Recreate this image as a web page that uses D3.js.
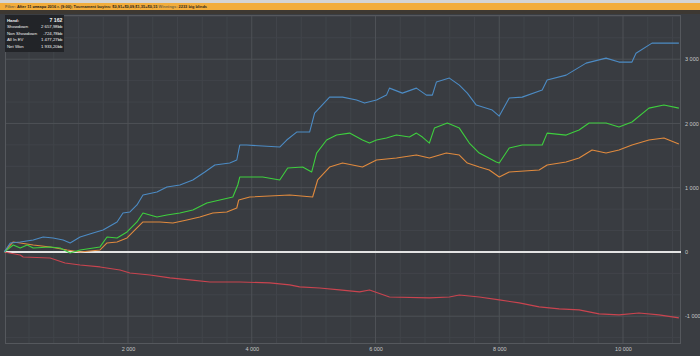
<!DOCTYPE html>
<html><head><meta charset="utf-8">
<script src="https://cdn.jsdelivr.net/npm/d3@7"></script>
<style>
html,body{margin:0;padding:0;background:#3a3d42;overflow:hidden}
svg{display:block}
text{font-family:"Liberation Sans","DejaVu Sans",sans-serif}
</style></head>
<body>
<svg id="c" width="700" height="356"></svg>
<script>
// ---- data (hands, big blinds) ----
const xTicks = [2000, 4000, 6000, 8000, 10000];
const xTickLabels = ["2 000", "4 000", "6 000", "8 000", "10 000"];
const yTicks = [-1000, 0, 1000, 2000, 3000];
const yTickLabels = ["-1 000", "0", "1 000", "2 000", "3 000"];

const blueHands = [0,97,258,468,629,790,952,1065,1226,1435,1597,1823,1919,2032,2145,2242,2468,2629,2839,3048,3242,3403,3645,3758,3806,3919,4452,4565,4726,4935,5016,5258,5468,5694,5823,6016,6177,6226,6435,6661,6823,6919,6984,7194,7355,7484,7629,7887,8000,8161,8371,8694,8774,9081,9403,9726,9935,10145,10210,10468,10694,10903];
const blueValues = [0,140,156,187,233,218,187,140,233,295,342,467,606,622,731,886,933,1011,1042,1120,1244,1353,1384,1431,1664,1664,1633,1742,1866,1866,2161,2410,2410,2364,2317,2364,2441,2550,2472,2550,2441,2441,2644,2706,2597,2472,2286,2208,2115,2395,2410,2519,2675,2752,2939,3017,2955,2955,3094,3250,3250,3250];

const greenHands = [0,145,258,371,468,742,903,1065,1226,1548,1661,1823,1984,2145,2242,2468,2629,2839,3048,3274,3484,3694,3774,3806,4177,4452,4581,4823,4968,5048,5210,5371,5581,5790,5903,6016,6177,6339,6548,6661,6758,6871,6952,7161,7355,7516,7677,7952,8000,8161,8371,8694,8774,9081,9290,9452,9726,9935,10145,10419,10661,10903];
const greenValues = [0,109,62,109,62,78,62,-16,31,78,233,218,311,467,606,544,575,606,653,762,809,855,1042,1166,1166,1120,1306,1322,1244,1539,1742,1819,1850,1742,1695,1742,1773,1819,1788,1850,1788,1695,1928,2006,1928,1695,1539,1400,1384,1617,1664,1664,1850,1819,1897,2006,2006,1944,2022,2239,2286,2239];

const orangeHands = [0,145,258,468,742,1016,1226,1548,1661,1823,1984,2145,2242,2516,2726,2952,3161,3371,3597,3758,3790,3968,4613,4984,5065,5258,5468,5790,6016,6339,6661,6871,7145,7355,7484,7677,7839,8000,8161,8645,8774,9081,9290,9500,9726,9935,10145,10419,10661,10903];
const orangeValues = [0,156,140,109,78,31,0,31,140,156,218,373,467,467,451,498,544,606,622,684,809,855,886,855,1120,1322,1384,1322,1431,1462,1508,1462,1539,1508,1384,1322,1275,1166,1244,1275,1353,1400,1462,1586,1539,1586,1664,1742,1773,1679];

const redHands = [0,258,306,742,984,1226,1548,1871,2032,2355,2677,3000,3323,3806,4290,4613,4774,5097,5419,5742,5903,6226,6871,7194,7355,7677,8000,8323,8645,8968,9290,9613,9935,10258,10581,10903];
const redValues = [0,-47,-78,-93,-171,-202,-233,-280,-327,-358,-404,-435,-467,-467,-482,-513,-544,-560,-591,-622,-591,-700,-715,-700,-669,-700,-746,-793,-855,-886,-902,-964,-980,-949,-980,-1026];

const headerParts = [
  {t:"Filter: ", c:"#7a6640"},
  {t:"After 11 января 2016 г. (9:00); Tournament buyins: $0,91+$0,09,$1,35+$0,15 ", c:"#2a2418"},
  {t:"Winnings: ", c:"#7a6640"},
  {t:"2233 big blinds", c:"#2a2418"}
];
const infoLabels = ["Hand:", "Showdown", "Non Showdown", "All In EV", "Net Won"];
const infoValues = ["7 162", "2 657,98bb", "-724,78bb", "1 477,27bb", "1 933,20bb"];

// ---- drawing ----
const svg = d3.select("#c");
const L = 5, R = 681, T = 15, B = 344;
const x = d3.scaleLinear().domain([2000, 10000]).range([128, 623]);
const y = d3.scaleLinear().domain([-1000, 3000]).range([316.2, 59.2]);

svg.append("rect").attr("x",0).attr("y",0).attr("width",700).attr("height",356).attr("fill","#3a3d42");
svg.append("rect").attr("x",0).attr("y",0).attr("width",700).attr("height",3).attr("fill","#d4d4d4");
svg.append("rect").attr("x",0).attr("y",3).attr("width",700).attr("height",7).attr("fill","#f2ad3c");
svg.append("rect").attr("x",0).attr("y",10).attr("width",700).attr("height",4).attr("fill","#3d3832");

const ht = svg.append("text").attr("x",5).attr("y",8.3).attr("font-size",3.95).attr("font-weight","bold");
headerParts.forEach(p => ht.append("tspan").attr("fill",p.c).text(p.t));

const plot = svg.append("g");
plot.append("rect").attr("x",L).attr("y",T).attr("width",R-L).attr("height",B-T).attr("fill","#393c41");

const xMin = x.invert(L), xMax = x.invert(R);
const yMin = y.invert(B), yMax = y.invert(T);
const minorX = d3.range(Math.ceil(xMin/400)*400, xMax, 400).filter(v => v % 2000 !== 0);
plot.selectAll(".mvx").data(minorX).join("line")
  .attr("x1",d=>x(d)).attr("x2",d=>x(d)).attr("y1",T).attr("y2",B)
  .attr("stroke","#41444a").attr("stroke-width",1);
const minorY = d3.range(-4, 12).map(i => i*1000/3).filter(v => v>yMin && v<yMax && Math.abs(v % 1000) > 1);
plot.selectAll(".mvy").data(minorY).join("line")
  .attr("y1",d=>y(d)).attr("y2",d=>y(d)).attr("x1",L).attr("x2",R)
  .attr("stroke","#41444a").attr("stroke-width",1);
plot.selectAll(".gx").data(xTicks).join("line")
  .attr("x1",d=>x(d)).attr("x2",d=>x(d)).attr("y1",T).attr("y2",B)
  .attr("stroke","#4e5156").attr("stroke-width",1);
plot.selectAll(".gy").data(yTicks.filter(v=>v!==0)).join("line")
  .attr("y1",d=>y(d)).attr("y2",d=>y(d)).attr("x1",L).attr("x2",R)
  .attr("stroke","#4e5156").attr("stroke-width",1);
plot.append("rect").attr("x",L+0.5).attr("y",T+0.5).attr("width",R-L-1).attr("height",B-T-1)
  .attr("fill","none").attr("stroke","#55585d").attr("stroke-width",1);

const xAxis = d3.axisBottom(x).tickValues(xTicks).tickFormat((d,i)=>xTickLabels[i]).tickSize(0).tickPadding(0);
const gx = svg.append("g").attr("transform",`translate(0,${B+3})`).call(xAxis);
gx.select(".domain").remove();
gx.selectAll("text").attr("fill","#c8c8c8").attr("font-size",5.5).attr("font-family","Liberation Sans, sans-serif");

const yAxis = d3.axisRight(y).tickValues(yTicks).tickFormat((d,i)=>yTickLabels[i]).tickSize(0).tickPadding(0);
const gy = svg.append("g").attr("transform",`translate(${R+4},0)`).call(yAxis);
gy.select(".domain").remove();
gy.selectAll("text").attr("fill","#c8c8c8").attr("font-size",5.5).attr("font-family","Liberation Sans, sans-serif");

svg.append("line").attr("x1",L).attr("x2",R).attr("y1",y(0)).attr("y2",y(0))
  .attr("stroke","#e4e4e4").attr("stroke-width",2);

const line = d3.line().x(d=>x(d[0])).y(d=>y(d[1]));
const series = [
  {h:redHands, v:redValues, c:"#c9444f"},
  {h:orangeHands, v:orangeValues, c:"#e08a3e"},
  {h:greenHands, v:greenValues, c:"#3ecf3e"},
  {h:blueHands, v:blueValues, c:"#4c8bc4"}
];
series.forEach(s => {
  svg.append("path").datum(s.h.map((h,i)=>[h, s.v[i]]))
    .attr("d", line).attr("fill","none").attr("stroke", s.c)
    .attr("stroke-width",1.1).attr("stroke-linejoin","round");
});

const ib = svg.append("g");
ib.append("rect").attr("x",5).attr("y",15).attr("width",59).attr("height",37).attr("fill","#222428");
const rowY = d3.scaleLinear().domain([0,4]).range([21.5, 47.5]);
ib.selectAll(".il").data(infoLabels).join("text")
  .attr("x",7).attr("y",(d,i)=>rowY(i)).attr("fill","#f0f0f0").attr("font-size",4.3)
  .attr("font-weight",(d,i)=>i===0?"bold":"normal").text(d=>d);
ib.selectAll(".iv").data(infoValues).join("text")
  .attr("x",62.5).attr("y",(d,i)=>rowY(i)).attr("fill","#f0f0f0").attr("font-size",(d,i)=>i===0?5.2:4.3)
  .attr("font-weight",(d,i)=>i===0?"bold":"normal")
  .attr("text-anchor","end").text(d=>d);
</script>
</body></html>
